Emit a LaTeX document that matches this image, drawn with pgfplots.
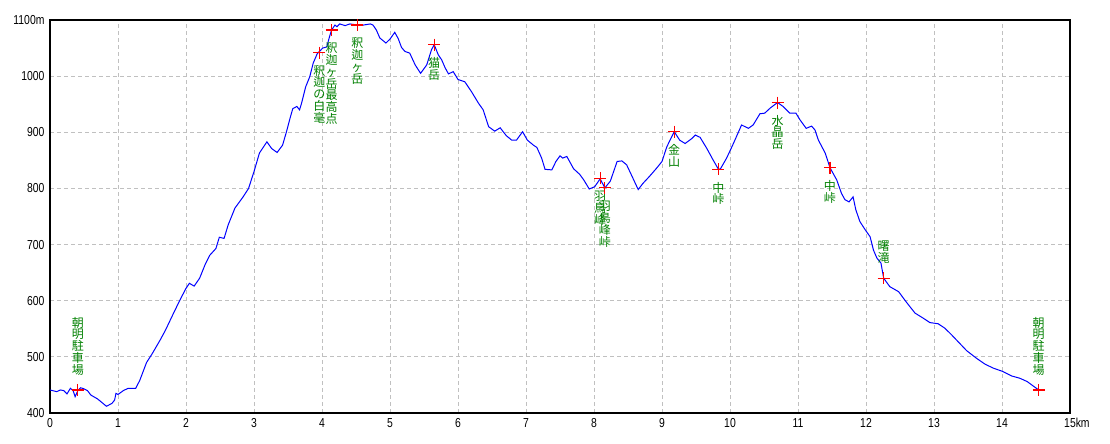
\documentclass[border=0pt]{standalone}
\usepackage{fontspec}
\setmainfont{Liberation Sans}[FakeStretch=0.8]
\newfontfamily\jp{Noto Sans CJK JP}
\usepackage{pgfplots}
\pgfplotsset{compat=1.18}
\definecolor{prof}{RGB}{0,0,255}
\definecolor{lbl}{RGB}{0,128,0}
\definecolor{grd}{RGB}{192,192,192}
\makeatletter
\def\vst#1{\ifx\relax#1\else\hbox to 12pt{\hss\vrule width0pt height10pt depth1.8pt #1\hss}\expandafter\vst\fi}
\newcommand\vstack[1]{\vbox{\offinterlineskip\vst#1\relax}}
\newcommand\vlabel{\expandafter\vstack\expandafter{\pgfplotspointmeta}}
\makeatother
\begin{document}
\begin{tikzpicture}
\begin{axis}[name=ax, scale only axis, width=1020pt, height=393pt,
  xmin=0, xmax=15, ymin=400, ymax=1100,
  xtick={0,1,2,3,4,5,6,7,8,9,10,11,12,13,14,15},
  xticklabels={0,1,2,3,4,5,6,7,8,9,10,11,12,13,14,15\rlap{km}},
  ytick={400,500,600,700,800,900,1000,1100},
  yticklabels={400,500,600,700,800,900,1000,1100m},
  grid=major,
  major grid style={dash pattern=on 4pt off 3pt, color=grd, line width=0.9pt},
  axis line style={line width=1.3pt},
  major tick length=0pt, tick style={draw=none},
  ticklabel style={font=\fontsize{13}{15}\selectfont},
  xticklabel style={yshift=-2pt},
  yticklabel style={xshift=-2pt},
  clip=false]
\addplot[color=prof, line width=1pt, mark=none] coordinates {
(0.00,441) (0.10,438) (0.15,441) (0.20,440) (0.25,434) (0.30,444) (0.34,440)
(0.37,429) (0.41,440) (0.45,445) (0.50,443) (0.55,440) (0.60,432) (0.70,425)
(0.75,420) (0.83,412) (0.91,417) (0.95,423) (0.97,435) (1.00,433) (1.08,440)
(1.15,444) (1.26,444) (1.32,458) (1.42,490) (1.50,505) (1.62,530) (1.70,548)
(1.79,571) (1.91,601) (2.00,622) (2.05,631) (2.12,626) (2.20,640) (2.28,664)
(2.35,681) (2.44,693) (2.49,713) (2.56,711) (2.62,735) (2.72,765) (2.84,785)
(2.92,800) (3.00,830) (3.08,863) (3.19,883) (3.26,871) (3.34,864) (3.42,877)
(3.48,902) (3.53,925) (3.57,942) (3.63,946) (3.67,940) (3.70,952) (3.76,981)
(3.82,999) (3.87,1023) (3.93,1040) (4.01,1050) (4.07,1052) (4.11,1070) (4.14,1082)
(4.19,1091) (4.22,1088) (4.26,1093) (4.34,1090) (4.41,1093) (4.52,1091) (4.61,1091)
(4.71,1093) (4.75,1091) (4.80,1082) (4.85,1068) (4.94,1059) (5.00,1066) (5.07,1078)
(5.12,1067) (5.17,1051) (5.22,1044) (5.29,1041) (5.37,1020) (5.45,1005) (5.54,1020)
(5.61,1047) (5.65,1056) (5.71,1038) (5.76,1029) (5.81,1015) (5.86,1004) (5.93,1008)
(6.00,994) (6.10,990) (6.20,972) (6.30,952) (6.37,940) (6.45,910) (6.54,902)
(6.62,908) (6.71,894) (6.79,886) (6.86,886) (6.95,901) (7.02,886) (7.11,877)
(7.16,873) (7.23,854) (7.28,834) (7.38,833) (7.44,848) (7.50,858) (7.54,854)
(7.60,857) (7.70,835) (7.79,825) (7.85,815) (7.93,799) (8.01,803) (8.09,817)
(8.16,801) (8.24,813) (8.28,827) (8.34,848) (8.41,849) (8.48,842) (8.55,824)
(8.65,798) (8.72,809) (8.82,822) (8.92,836) (9.00,848) (9.07,874) (9.18,901)
(9.26,886) (9.34,880) (9.44,889) (9.49,895) (9.56,891) (9.66,871) (9.75,851)
(9.83,834) (9.86,835) (9.95,854) (10.05,880) (10.17,913) (10.27,907) (10.34,913)
(10.44,933) (10.51,934) (10.59,943) (10.70,953) (10.78,946) (10.88,934) (10.97,934)
(11.03,922) (11.12,907) (11.20,911) (11.25,904) (11.30,886) (11.40,863) (11.47,837)
(11.57,815) (11.64,791) (11.69,780) (11.75,776) (11.81,785) (11.85,762) (11.91,741)
(11.99,726) (12.06,714) (12.11,690) (12.16,676) (12.22,667) (12.26,640) (12.35,625)
(12.48,616) (12.59,598) (12.72,578) (12.84,569) (12.94,561) (13.06,559) (13.16,551)
(13.26,539) (13.37,525) (13.48,511) (13.63,497) (13.75,487) (13.87,480) (14.01,474)
(14.14,466) (14.26,462) (14.37,456) (14.46,448) (14.54,441)
};
% markers with labels below
\addplot[only marks, mark=+, mark size=6pt, mark options={draw=red, line width=1.2pt},
  point meta=explicit symbolic, nodes near coords={\vlabel},
  nodes near coords align={center},
  every node near coord/.append style={anchor=north, inner sep=0pt, yshift=-12pt,
    text=lbl, font=\jp\fontsize{12}{12}\selectfont}]
coordinates {
(3.96,1042) [釈迦の白毫]
(4.14,1082) [釈迦ヶ岳最高点]
(4.52,1091) [釈迦ヶ岳]
(5.65,1056) [猫岳]
(8.09,818) [羽鳥峰]
(8.16,801) [羽鳥峰峠]
(9.18,901) [金山]
(9.83,834) [中峠]
(10.70,953) [水晶岳]
(11.47,837) [中峠]
};
% markers with labels above
\addplot[only marks, mark=+, mark size=6pt, mark options={draw=red, line width=1.2pt},
  point meta=explicit symbolic, nodes near coords={\vlabel},
  nodes near coords align={center},
  every node near coord/.append style={anchor=south, inner sep=0pt, yshift=13pt,
    text=lbl, font=\jp\fontsize{12}{12}\selectfont}]
coordinates {
(0.41,441) [朝明駐車場]
(12.26,640) [曙滝]
(14.54,441) [朝明駐車場]
};
\end{axis}
\pgfresetboundingbox
\path[use as bounding box] ([shift={(-50pt,-31pt)}]ax.south west) rectangle ([shift={(40pt,20pt)}]ax.north east);
\end{tikzpicture}
\end{document}
